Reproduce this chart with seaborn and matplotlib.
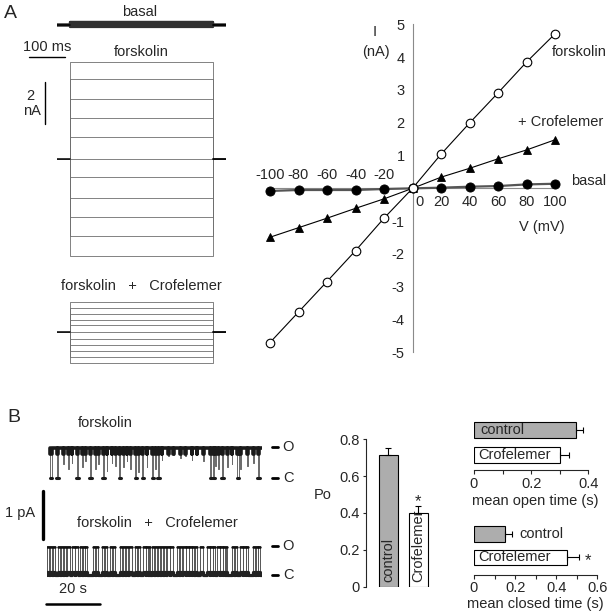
import numpy as np
import pandas as pd
import matplotlib
matplotlib.use("Agg")
import matplotlib.pyplot as plt
from matplotlib.ticker import FuncFormatter
import seaborn as sns

W, H = 608, 614

# ---- values ----
voltages = [-100, -80, -60, -40, -20, 0, 20, 40, 60, 80, 100]      # mV
i_forskolin = [-4.70, -3.77, -2.84, -1.90, -0.91, 0.0, 1.04, 1.99, 2.91, 3.85, 4.71]   # nA
i_crofelemer = [-1.49, -1.20, -0.91, -0.61, -0.32, 0.0, 0.34, 0.61, 0.90, 1.17, 1.48]
i_basal = [-0.08, -0.05, -0.05, -0.05, -0.02, 0.0, 0.02, 0.05, 0.07, 0.12, 0.14]

step_on, step_off = 0, 400          # ms
trace_window = (-35, 435)           # ms

groups = ["control", "Crofelemer"]
po_mean = [0.716, 0.402]
po_sem = [0.036, 0.036]
open_time = [0.356, 0.301]          # s
open_sem = [0.026, 0.032]
closed_time = [0.151, 0.451]        # s
closed_sem = [0.035, 0.060]

# single channel records, times in s
fsk_span = (1.1, 79.6)
fsk_amp = 0.65                      # pA
fsk_closures = [1.2, 3.7, 11.1, 15.9, 20.7, 26.7, 32.6, 35.2, 38.9, 41.1,
                60.4, 61.5, 64.8, 70.4, 78.1]
fsk_dips = [6.0, 7.9, 9.1, 12.9, 14.1, 17.8, 19.0, 22.1, 24.0, 25.2, 28.3,
            29.5, 30.7, 33.8, 36.9, 40.0, 42.5, 44.9, 46.8, 49.3, 51.1, 53.6,
            55.4, 57.9, 62.2, 63.4, 66.6, 68.4, 71.5, 74.0, 76.4]
fsk_dip_levels = [0.45, 0.3, 0.5, 0.35, 0.55, 0.3, 0.45, 0.25, 0.5, 0.4, 0.35,
                  0.55, 0.3, 0.2, 0.35, 0.3, 0.6, 0.7, 0.75, 0.65, 0.7, 0.6,
                  0.75, 0.55, 0.4, 0.3, 0.35, 0.45, 0.3, 0.4, 0.5]
crof_span = (0.0, 79.6)
crof_amp = 0.60
crof_bursts = [(0.0, 0.8), (1.0, 1.9), (2.1, 3.0),
               (4.1, 4.9), (5.1, 6.0), (6.2, 7.2), (7.4, 8.5),
               (9.3, 10.3), (10.5, 11.5),
               (12.2, 13.0), (13.2, 14.0), (14.2, 14.8),
               (17.0, 17.9), (18.1, 18.9),
               (20.4, 21.2), (21.4, 22.2),
               (23.3, 24.2), (24.4, 25.2),
               (27.0, 27.8), (28.0, 28.9), (29.1, 30.0), (30.2, 31.5),
               (32.6, 33.4), (33.6, 34.4),
               (35.6, 36.5), (36.7, 37.4), (37.6, 38.1),
               (38.9, 39.7), (39.9, 40.7),
               (41.1, 42.0), (42.2, 43.1), (43.3, 44.2), (44.4, 45.4), (45.6, 46.7),
               (48.1, 49.0), (49.2, 50.0),
               (50.4, 51.3), (51.5, 52.4), (52.6, 53.6), (53.8, 54.6), (54.8, 55.6),
               (56.7, 57.8),
               (59.3, 60.2), (60.4, 61.3), (61.5, 62.2),
               (63.0, 63.9), (64.1, 65.0), (65.2, 66.0), (66.2, 66.7),
               (68.5, 69.4), (69.6, 70.4),
               (71.5, 72.4), (72.6, 73.5), (73.7, 74.4),
               (76.3, 77.1), (77.3, 78.1), (78.3, 78.9)]

GRAY = "#adadad"
FS = 10.5

sns.set_style("white")
plt.rcParams["font.family"] = ["Liberation Sans", "DejaVu Sans"]
plt.rcParams["font.size"] = FS


def px_axes(fig, left, top, width, height):
    ax = fig.add_axes([left / W, 1 - (top + height) / H, width / W, height / H])
    ax.patch.set_alpha(0)
    return ax


def ftext(fig, x, y, s, **kw):
    kw.setdefault("ha", "center")
    kw.setdefault("va", "center")
    fig.text(x / W, 1 - y / H, s, **kw)


def step_traces(ax, levels, color, lw):
    for lev in levels:
        t = [trace_window[0], step_on, step_on, step_off, step_off, trace_window[1]]
        y = [0, 0, lev, lev, 0, 0]
        ax.plot(t, y, color=color, lw=lw)
    ax.plot([trace_window[0], step_on], [0, 0], color="black", lw=1.1)
    ax.plot([step_off, trace_window[1]], [0, 0], color="black", lw=1.3)
    ax.set_xlim(*trace_window)
    ax.axis("off")


def build_trace(span, base, events):
    ts, ys = [span[0]], [base]
    for t, d, lev in sorted(events):
        ts += [t, t, t + d, t + d]
        ys += [base, lev, lev, base]
    ts.append(span[1])
    ys.append(base)
    return np.array(ts), np.array(ys)


fig = plt.figure(figsize=(W / 100, H / 100), dpi=100)

# ================= A: whole-cell traces =================
ax_b = px_axes(fig, 57.3, 12.6, 168.5, 24.7)
ax_b.set_ylim(-0.6, 0.6)
step_traces(ax_b, i_basal, "#303030", 1.6)

ax_f = px_axes(fig, 57.3, 51.6, 168.5, 214.2)
ax_f.set_ylim(-5.2, 5.2)
step_traces(ax_f, i_forskolin, "#6e6e6e", 0.6)
ax_f.plot([-114, -14], [4.94, 4.94], color="black", lw=1.0, clip_on=False)
ax_f.plot([-69, -69], [1.7, 3.7], color="black", lw=1.0, clip_on=False)

ax_c = px_axes(fig, 57.3, 295.2, 168.5, 74.2)
ax_c.set_ylim(-1.8, 1.8)
step_traces(ax_c, i_crofelemer, "#6e6e6e", 0.6)

ftext(fig, 10.5, 13.7, "A", fontsize=14)
ftext(fig, 140, 11.7, "basal")
ftext(fig, 47.5, 47, "100 ms")
ftext(fig, 141.3, 52, "forskolin")
ftext(fig, 30, 96, "2")
ftext(fig, 31.7, 111.3, "nA")
ftext(fig, 141.7, 286, "forskolin   +   Crofelemer")

# ================= A: I-V relation =================
ax_iv = px_axes(fig, 255.75, 14.5, 313.5, 347.7)
iv = pd.DataFrame({"V": voltages, "forskolin": i_forskolin,
                   "crofelemer": i_crofelemer, "basal": i_basal})
sns.lineplot(data=iv, x="V", y="basal", ax=ax_iv, color="#555555", lw=1.6,
             marker="o", markersize=6.6, markerfacecolor="black",
             markeredgecolor="black", markeredgewidth=0.6, zorder=3)
sns.lineplot(data=iv, x="V", y="crofelemer", ax=ax_iv, color="black", lw=0.8,
             marker="^", markersize=5.5, markerfacecolor="black",
             markeredgecolor="black", markeredgewidth=0.6, zorder=3)
sns.lineplot(data=iv, x="V", y="forskolin", ax=ax_iv, color="black", lw=0.8,
             marker="o", markersize=6.2, markerfacecolor="white",
             markeredgecolor="black", markeredgewidth=0.8, zorder=4)
ax_iv.set_xlim(-110, 110)
ax_iv.set_ylim(-5.3, 5.3)
for s in ["top", "right"]:
    ax_iv.spines[s].set_visible(False)
ax_iv.spines["left"].set_position(("data", 0))
ax_iv.spines["bottom"].set_position(("data", 0))
ax_iv.spines["left"].set_bounds(-5, 5)
ax_iv.spines["bottom"].set_bounds(-100, 100)
for s in ["left", "bottom"]:
    ax_iv.spines[s].set_color("#8a8a8a")
    ax_iv.spines[s].set_linewidth(0.8)
    ax_iv.spines[s].set_zorder(1)
yt = [v for v in range(-5, 6) if v != 0]
ax_iv.set_yticks(yt)
ax_iv.set_yticklabels([str(v) for v in yt])
ax_iv.tick_params(axis="y", direction="out", length=3, width=0.8,
                  color="#8a8a8a", pad=2.6, labelsize=FS)
ax_iv.set_xticks([])
ax_iv.set_xlabel("")
ax_iv.set_ylabel("")
for v in voltages:
    if v < 0:
        ax_iv.annotate(str(v), (v, 0), xytext=(0, 4.5), textcoords="offset points",
                       ha="center", va="bottom")
    elif v > 0:
        ax_iv.annotate(str(v), (v, 0), xytext=(0, -4.7), textcoords="offset points",
                       ha="center", va="top")
    else:
        ax_iv.annotate("0", (v, 0), xytext=(4.8, -4.7), textcoords="offset points",
                       ha="center", va="top")

ftext(fig, 375, 32, "I")
ftext(fig, 376, 52, "(nA)")
ftext(fig, 542.3, 226.7, "V (mV)")
ftext(fig, 552, 52, "forskolin", ha="left")
ftext(fig, 518.3, 122.5, "+ Crofelemer", ha="left")
ftext(fig, 570.7, 181, "basal", ha="left")

# ================= B: single channel records =================
ax_t1 = px_axes(fig, 47, 437.2, 215, 51)
events = [(t, 0.5, 0.0) for t in fsk_closures]
events += [(t, 0.25, fsk_amp * f) for t, f in zip(fsk_dips, fsk_dip_levels)]
ts, ys = build_trace(fsk_span, fsk_amp, events)
ax_t1.plot(ts, ys, color="#6a6a6a", lw=0.7)
ax_t1.plot(ts, np.clip(ys, fsk_amp * 0.8, None) - 0.02, color="#1a1a1a", lw=2.6)
for t in fsk_closures:
    ax_t1.plot([t - 0.2, t + 0.7], [0.02, 0.02], color="#1a1a1a", lw=2.2)

ax_t2 = px_axes(fig, 47, 533.7, 215, 51)
events = [(a, b - a, crof_amp) for a, b in crof_bursts]
ts, ys = build_trace(crof_span, 0.0, events)
ax_t2.plot(ts, ys, color="#555555", lw=0.7)
ax_t2.plot(ts, np.clip(ys, None, crof_amp * 0.1), color="#222222", lw=2.3)
for a, b in crof_bursts:
    ax_t2.plot([a, b], [crof_amp - 0.02, crof_amp - 0.02], color="#111111", lw=1.8)

for ax, amp in [(ax_t1, fsk_amp), (ax_t2, crof_amp)]:
    ax.set_xlim(0, 79.6)
    ax.set_ylim(-0.2, 0.85)
    ax.axis("off")
    for lev, lab in [(amp, "O"), (0.0, "C")]:
        ax.plot([83.3, 85.6], [lev, lev], color="black", lw=2.0, clip_on=False)
        ax.text(89.3, lev, lab, ha="center", va="center")

# scale bars
ax_t1.plot([-1.6, -1.6], [-0.25, -1.25], color="black", lw=2.4, clip_on=False)
ax_t2.plot([-0.37, 19.6], [-0.6, -0.6], color="black", lw=1.8, clip_on=False)

ftext(fig, 13.4, 417, "B", fontsize=14)
ftext(fig, 104.8, 423, "forskolin")
ftext(fig, 20.5, 513, "1 pA")
ftext(fig, 157, 523, "forskolin   +   Crofelemer")
ftext(fig, 73, 589, "20 s")

# ================= B: open probability =================
ax_po = px_axes(fig, 366, 439.3, 66.1, 147.4)
sns.barplot(x=groups, y=po_mean, hue=groups, palette=[GRAY, "white"],
            saturation=1, edgecolor="black", linewidth=0.8, width=0.62,
            errorbar=None, legend=False, ax=ax_po)
ax_po.errorbar([0, 1], po_mean, yerr=[[0, 0], po_sem], fmt="none",
               ecolor="black", elinewidth=0.8, capsize=2.5, capthick=0.8)
ax_po.set_xlim(-0.743, 1.46)
ax_po.set_ylim(0, 0.8)
sns.despine(ax=ax_po, bottom=True)
ax_po.spines["left"].set_linewidth(0.8)
ax_po.set_xticks([])
ax_po.set_yticks([0, 0.2, 0.4, 0.6, 0.8])
ax_po.yaxis.set_major_formatter(FuncFormatter(lambda v, p: f"{v:g}"))
ax_po.tick_params(axis="y", left=True, direction="out", length=2, width=0.8,
                  pad=2.4, labelsize=FS)
ax_po.set_xlabel("")
ax_po.set_ylabel("Po", rotation=0, fontsize=FS, va="center", ha="center")
ax_po.yaxis.set_label_coords((322.5 - 366) / 66.1, (586.7 - 495) / 147.4)
for i, g in enumerate(groups):
    ax_po.text(i, 0.025, g, rotation=90, ha="center", va="bottom")
ax_po.text(1, 0.42, "*", ha="center", va="bottom", fontsize=12)


# ================= B: dwell times =================
def dwell_axes(left, top, width, height, means, sems, xmax, ylim, tick_pad):
    ax = px_axes(fig, left, top, width, height)
    sns.barplot(y=groups, x=means, hue=groups, palette=[GRAY, "white"],
                orient="h", saturation=1, edgecolor="black", linewidth=0.8,
                width=0.66, errorbar=None, legend=False, ax=ax)
    ax.errorbar(means, [0, 1], xerr=[[0, 0], sems], fmt="none", ecolor="black",
                elinewidth=0.8, capsize=2.5, capthick=0.8)
    ax.set_xlim(0, xmax)
    ax.set_ylim(*ylim)
    sns.despine(ax=ax, left=True)
    ax.spines["bottom"].set_linewidth(0.8)
    ax.set_yticks([])
    ax.set_ylabel("")
    major = np.round(np.arange(0, xmax + 0.01, 0.2), 1)
    minor = np.round(np.arange(0.1, xmax, 0.2), 1)
    ax.set_xticks(major)
    ax.set_xticks(minor, minor=True)
    ax.xaxis.set_major_formatter(FuncFormatter(lambda v, p: f"{v:g}"))
    ax.tick_params(axis="x", which="both", bottom=True, direction="out",
                   length=3.2, width=0.8, pad=tick_pad, labelsize=FS)
    return ax


ax_op = dwell_axes(474, 418, 114.3, 52, open_time, open_sem, 0.4,
                   (1.62, -0.486), 2.2)
ax_op.set_xlabel("mean open time (s)", fontsize=FS, va="center")
ax_op.xaxis.set_label_coords((535 - 474) / 114.3, -0.60)
ax_op.text(0.023, 0, "control", ha="left", va="center")
ax_op.text(0.016, 1, "Crofelemer", ha="left", va="center")

ax_cl = dwell_axes(474, 522, 123.3, 53, closed_time, closed_sem, 0.6,
                   (1.75, -0.52), 0.8)
ax_cl.set_xlabel("mean closed time (s)", fontsize=FS, va="center")
ax_cl.xaxis.set_label_coords((535 - 474) / 123.3, -0.55)
ax_cl.text(0.22, 0, "control", ha="left", va="center")
ax_cl.text(0.021, 1, "Crofelemer", ha="left", va="center")
ax_cl.text(0.556, 1.12, "*", ha="center", va="center", fontsize=12)

fig.savefig("out.png", dpi=100)
